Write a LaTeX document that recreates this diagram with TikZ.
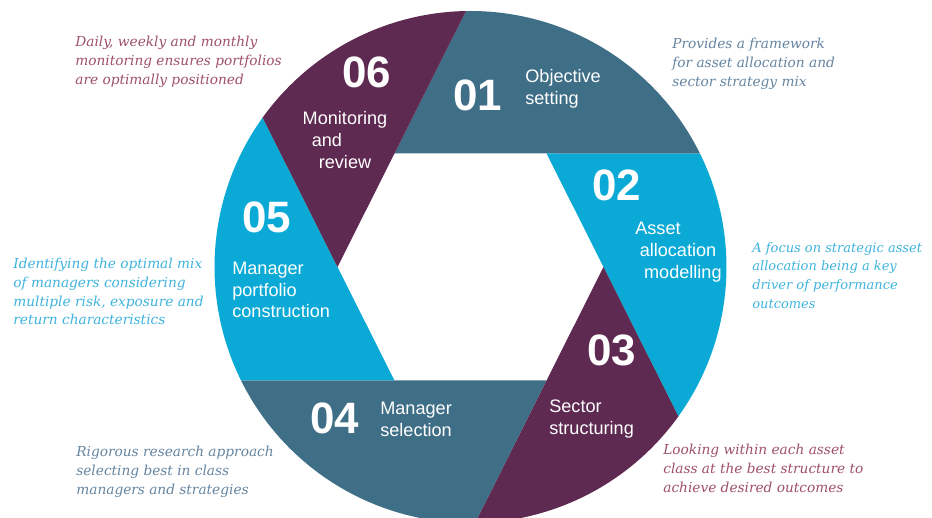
\documentclass[tikz,border=0pt]{standalone}
\usepackage{fontspec}
\setmainfont{Liberation Sans}
\newfontfamily\notefont{DejaVu Serif}
\usetikzlibrary{calc}

\definecolor{slate}{HTML}{3F6E87}
\definecolor{aqua}{HTML}{0BAAD6}
\definecolor{plum}{HTML}{5E2A52}
\definecolor{slatenote}{HTML}{6584A0}
\definecolor{aquanote}{HTML}{3FB3DD}
\definecolor{plumnote}{HTML}{9E506B}

\begin{document}
\begin{tikzpicture}[
  num/.style={text=white, font=\fontsize{25}{25}\selectfont\bfseries, inner sep=0pt},
  lbl/.style={text=white, font=\fontsize{10.3}{12.4}\selectfont, align=left, inner sep=0pt, anchor=west},
  note/.style={font=\notefont\itshape\fontsize{7.8}{10.6}\selectfont, align=left, anchor=north west, inner sep=0pt}
]
\useasboundingbox (0,0) rectangle (18.64,10.36);

\begin{scope}[shift={(9.41,5.02)}]
% hexagon hole:
\coordinate (R)  at (2.66,0);
\coordinate (TR) at (1.52,2.27);
\coordinate (TL) at (-1.52,2.27);
\coordinate (L)  at (-2.66,0);
\coordinate (BL) at (-1.52,-2.27);
\coordinate (BR) at (1.52,-2.27);

% blades:
\fill[slate] (TL) -- (TR) -- (26.3:5.12) arc[start angle=26.3, end angle=91, radius=5.12] -- cycle;
\fill[aqua]  (TR) -- (R) -- (-35.7:5.12) arc[start angle=-35.7, end angle=26.3, radius=5.12] -- cycle;
\fill[plum]  (R) -- (BR) -- (-89:5.12) arc[start angle=-89, end angle=-35.7, radius=5.12] -- cycle;
\fill[slate] (BR) -- (BL) -- (206.3:5.12) arc[start angle=206.3, end angle=271, radius=5.12] -- cycle;
\fill[aqua]  (BL) -- (L) -- (144.3:5.12) arc[start angle=144.3, end angle=206.3, radius=5.12] -- cycle;
\fill[plum]  (L) -- (TL) -- (91:5.12) arc[start angle=91, end angle=144.3, radius=5.12] -- cycle;

% numbers and labels:
\node[num] (n01) at (0.15,3.44) {01};
\node[lbl] (l01) at (1.09,3.56) {Objective\\setting};

\node[num] (n02) at (2.93,1.64) {02};
\node[lbl] (l02) at (3.29,0.30) {Asset\\\hspace{2.5pt}allocation\\\hspace{5pt}modelling};

\node[num] (n03) at (2.83,-1.66) {03};
\node[lbl] (l03) at (1.57,-3.04) {Sector\\structuring};

\node[num] (n04) at (-2.71,-3.02) {04};
\node[lbl] (l04) at (-1.81,-3.04) {Manager\\selection};

\node[num] (n05) at (-4.07,1.0) {05};
\node[lbl] (l05) at (-4.77,-0.46) {Manager\\portfolio\\construction};

\node[num] (n06) at (-2.07,3.90) {06};
\node[lbl, anchor=center, align=center] (l06) at (-2.51,2.54) {Monitoring\\and\hspace{2em}\null\\review};
\end{scope}

% side notes:
\node[note, text=plumnote] (d06) at (1.50,9.64) {Daily, weekly and monthly\\monitoring ensures portfolios\\are optimally positioned};
\node[note, text=slatenote] (d01) at (13.44,9.60) {Provides a framework\\for asset allocation and\\sector strategy mix};
\node[note, text=aquanote, font=\notefont\itshape\fontsize{7.4}{10.6}\selectfont] (d02) at (15.04,5.52) {A focus on strategic asset\\allocation being a key\\driver of performance\\outcomes};
\node[note, text=aquanote] (d05) at (0.26,5.20) {Identifying the optimal mix\\of managers considering\\multiple risk, exposure and\\return characteristics};
\node[note, text=slatenote] (d04) at (1.52,1.44) {Rigorous research approach\\selecting best in class\\managers and strategies};
\node[note, text=plumnote] (d03) at (13.26,1.48) {Looking within each asset\\class at the best structure to\\achieve desired outcomes};

\end{tikzpicture}
\end{document}
